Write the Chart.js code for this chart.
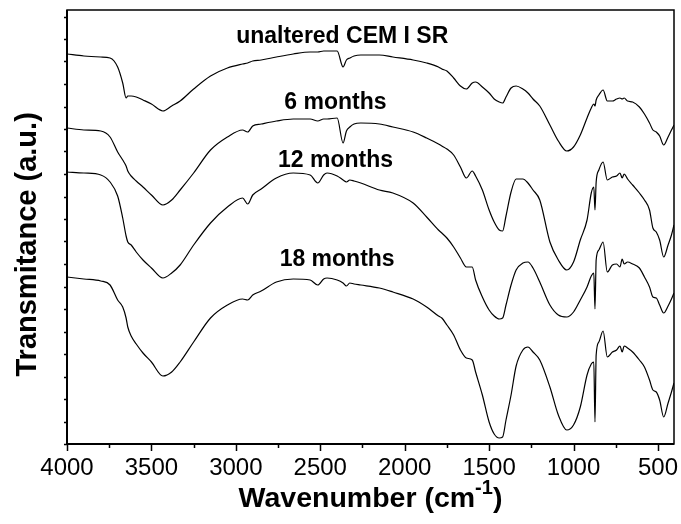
<!DOCTYPE html>
<html lang="en">
<head>
<meta charset="UTF-8">
<title>FTIR spectra - CEM I SR</title>
<script src="https://cdn.jsdelivr.net/npm/chart.js"></script>
<style>
  html, body { margin: 0; padding: 0; background: #fff; }
  #wrap { position: relative; width: 681px; height: 524px; }
</style>
</head>
<body>
<div id="wrap"><canvas id="ftir-chart"></canvas></div>
<script>
  // wavenumber grid (cm-1), shared by every spectrum
  const wavenumbers = [
    4000, 3900, 3800, 3745, 3700, 3670, 3650, 3640, 3620, 3590,
    3550, 3500, 3432, 3380, 3330, 3250, 3150, 3050, 2960, 2930,
    2900, 2850, 2760, 2660, 2560, 2515, 2480, 2460, 2400, 2365,
    2345, 2325, 2300, 2260, 2150, 2070, 1950, 1870, 1800, 1780,
    1750, 1710, 1670, 1635, 1600, 1580, 1540, 1500, 1470, 1440,
    1420, 1400, 1370, 1340, 1300, 1270, 1240, 1200, 1140, 1090,
    1040, 1000, 960, 920, 895, 880, 873, 866, 850, 825,
    800, 770, 745, 725, 712, 700, 680, 650, 610, 580,
    550, 530, 510, 490, 466, 440, 420, 405
  ];

  // transmittance, arbitrary units (curves stacked with offsets)
  const unaltered = [
    39.0, 38.8, 38.7, 38.6, 37.7, 36.1, 34.6, 34.8, 34.8, 34.7,
    34.4, 34.0, 33.3, 33.8, 34.3, 35.5, 36.8, 37.6, 38.0, 38.1,
    38.3, 38.4, 38.7, 39.0, 39.2, 39.2, 39.3, 39.3, 39.3, 37.7,
    38.4, 38.6, 38.8, 38.9, 38.9, 38.7, 38.4, 38.1, 37.7, 37.5,
    37.3, 36.6, 35.8, 35.5, 36.1, 36.2, 35.7, 35.1, 34.5, 34.2,
    34.1, 34.7, 35.6, 35.8, 35.5, 35.1, 34.5, 33.8, 31.9, 30.3,
    29.3, 29.7, 30.9, 32.6, 33.6, 34.0, 33.8, 34.4, 34.9, 35.4,
    34.3, 34.3, 34.5, 34.6, 34.5, 34.6, 34.3, 34.2, 33.7, 33.0,
    32.1, 31.4, 31.2, 30.8, 29.9, 30.7, 31.4, 31.9
  ];
  const months6 = [
    31.6, 31.4, 31.3, 30.7, 29.2, 28.4, 27.8, 27.3, 26.8, 26.3,
    25.7, 24.9, 23.9, 24.4, 25.4, 27.1, 29.4, 30.7, 31.4, 31.2,
    31.8, 32.0, 32.3, 32.5, 32.5, 32.3, 32.5, 32.5, 32.6, 30.1,
    31.3, 31.7, 32.0, 32.1, 32.0, 31.7, 31.2, 30.6, 30.0, 29.8,
    29.5, 28.9, 27.7, 26.6, 27.3, 26.8, 25.4, 23.4, 22.2, 21.4,
    21.3, 22.8, 25.2, 26.5, 26.5, 26.1, 25.4, 24.4, 20.2, 18.4,
    17.4, 18.2, 20.4, 22.4, 25.1, 25.7, 23.4, 26.2, 27.4, 28.2,
    26.4, 26.7, 26.8, 27.1, 26.6, 27.0, 26.5, 25.9, 25.1, 24.4,
    23.4, 21.6, 21.2, 20.4, 18.7, 19.9, 20.9, 21.9
  ];
  const months12 = [
    27.2, 27.1, 26.9, 26.2, 24.8, 22.6, 20.8, 20.2, 19.9, 19.2,
    18.4, 17.6, 16.6, 17.1, 17.9, 19.9, 22.1, 23.7, 24.6, 24.0,
    24.9, 25.5, 26.6, 27.1, 26.9, 26.1, 26.9, 27.1, 26.8, 26.4,
    26.2, 26.4, 26.3, 26.1, 25.4, 25.1, 24.1, 22.7, 21.4, 21.1,
    20.6, 19.7, 18.6, 17.7, 17.7, 16.4, 14.7, 13.4, 12.8, 12.5,
    12.6, 13.9, 15.9, 17.4, 18.1, 18.2, 17.6, 16.2, 13.9, 12.9,
    12.7, 13.2, 14.4, 15.7, 16.8, 17.1, 13.5, 18.4, 19.4, 20.2,
    17.2, 17.9, 18.0, 17.7, 18.5, 18.0, 18.2, 18.0, 17.6, 16.7,
    15.7, 14.7, 14.6, 13.9, 13.1, 13.8, 14.5, 15.1
  ];
  const months18 = [
    16.7, 16.5, 16.3, 15.9, 14.4, 13.7, 12.6, 11.7, 10.8, 10.0,
    9.1, 8.2, 6.8, 7.2, 8.2, 10.2, 12.6, 13.9, 14.5, 14.4,
    14.9, 15.3, 16.2, 16.5, 16.4, 15.9, 16.5, 16.6, 16.4, 16.1,
    15.8, 16.1, 16.0, 15.9, 15.6, 15.2, 14.5, 13.7, 12.8, 12.6,
    11.9, 10.9, 9.4, 8.6, 8.4, 7.2, 4.9, 2.2, 1.0, 0.6,
    0.7, 2.4, 4.9, 7.8, 9.4, 9.7, 9.2, 8.4, 5.7, 2.9,
    1.4, 1.9, 3.7, 6.9, 8.0, 8.2, 2.2, 8.9, 10.2, 11.3,
    8.7, 9.2, 9.4, 9.8, 9.2, 9.8, 9.6, 9.2, 8.4, 7.7,
    6.4, 5.4, 5.2, 4.4, 2.7, 4.1, 5.2, 6.1
  ];

  const seriesNames = ['unaltered CEM I SR', '6 months', '12 months', '18 months'];
  const xTickLabels = [4000, 3500, 3000, 2500, 2000, 1500, 1000, 500];

  const FONT = '"Liberation Sans", Arial, Helvetica, sans-serif';

  // where each curve's name sits, in data units
  const notes = [
    { text: seriesNames[0], wn: 2370, t: 40.7 },
    { text: seriesNames[1], wn: 2410, t: 34.1 },
    { text: seriesNames[2], wn: 2410, t: 28.3 },
    { text: seriesNames[3], wn: 2400, t: 18.4 }
  ];

  const toPoints = vals => wavenumbers.map((wn, i) => ({ x: wn, y: vals[i] }));

  const framePlugin = {
    id: 'frame',
    afterDraw(chart) {
      const { ctx, chartArea: a, scales: { x, y } } = chart;
      ctx.save();
      ctx.strokeStyle = '#000';
      ctx.fillStyle = '#000';

      // ticks on x: long at labelled values, short in between
      ctx.lineWidth = 1.5;
      ctx.beginPath();
      x.ticks.forEach(t => {
        if (t.value % 250 !== 0) return;
        const px = Math.round(x.getPixelForValue(t.value)) + 0.5;
        const len = xTickLabels.includes(t.value) ? 7 : 4;
        ctx.moveTo(px, a.bottom);
        ctx.lineTo(px, a.bottom + len);
      });
      // small unlabelled ticks on y
      y.ticks.forEach(t => {
        const py = Math.round(y.getPixelForValue(t.value)) + 0.5;
        ctx.moveTo(a.left, py);
        ctx.lineTo(a.left - 3, py);
      });
      ctx.stroke();

      // plot box
      ctx.lineWidth = 1.5;
      ctx.strokeRect(a.left, a.top, a.right - a.left, a.bottom - a.top);
      ctx.lineWidth = 2;
      ctx.beginPath();
      ctx.moveTo(a.left, a.top);
      ctx.lineTo(a.left, a.bottom);
      ctx.lineTo(a.right, a.bottom);
      ctx.stroke();

      // curve names
      ctx.font = 'bold 23px ' + FONT;
      ctx.textAlign = 'center';
      ctx.textBaseline = 'middle';
      notes.forEach(n => {
        ctx.fillText(n.text, x.getPixelForValue(n.wn), y.getPixelForValue(n.t));
      });

      // x title with superscript
      const cx = (a.left + a.right) / 2;
      const base = 507;
      const main = 'Wavenumber (cm';
      const big = 'bold 28.5px ' + FONT;
      const small = 'bold 20px ' + FONT;
      ctx.textBaseline = 'alphabetic';
      ctx.textAlign = 'left';
      ctx.font = big;
      const w1 = ctx.measureText(main).width;
      const w3 = ctx.measureText(')').width;
      ctx.font = small;
      const w2 = ctx.measureText('-1').width;
      const sx = cx - (w1 + w2 + w3) / 2;
      ctx.font = big;
      ctx.fillText(main, sx, base);
      ctx.font = small;
      ctx.fillText('-1', sx + w1, base - 13);
      ctx.font = big;
      ctx.fillText(')', sx + w1 + w2, base);

      // y title
      ctx.font = 'bold 29px ' + FONT;
      ctx.translate(28, a.top + (a.bottom - a.top) * 0.54);
      ctx.rotate(-Math.PI / 2);
      ctx.textAlign = 'center';
      ctx.textBaseline = 'middle';
      ctx.fillText('Transmitance (a.u.)', 0, 0);
      ctx.restore();
    }
  };

  const ctx = document.getElementById('ftir-chart').getContext('2d');
  new Chart(ctx, {
    type: 'line',
    data: {
      datasets: [unaltered, months6, months12, months18].map((vals, i) => ({
        label: seriesNames[i],
        data: toPoints(vals),
        borderColor: '#000',
        borderWidth: 1.2,
        pointRadius: 0,
        cubicInterpolationMode: 'monotone',
        fill: false
      }))
    },
    options: {
      responsive: true,
      maintainAspectRatio: false,
      animation: false,
      layout: { padding: { left: 0, right: 7, top: 10, bottom: 0 } },
      plugins: { legend: { display: false }, tooltip: { enabled: false } },
      scales: {
        x: {
          type: 'linear',
          reverse: true,
          min: 405,
          max: 4000,
          grid: { display: false, drawTicks: true, tickLength: 8 },
          border: { display: false },
          ticks: {
            stepSize: 250,
            includeBounds: false,
            autoSkip: false,
            maxRotation: 0,
            padding: 2,
            color: '#000',
            font: { family: FONT, size: 24 },
            callback: v => xTickLabels.includes(v) ? String(v) : ''
          },
          afterFit: s => { s.height = 80; s.paddingLeft = 0; s.paddingRight = 0; }
        },
        y: {
          min: 0,
          max: 43.4,
          grid: { display: false },
          border: { display: false },
          ticks: { display: false, stepSize: 2.25, includeBounds: false },
          afterFit: s => { s.width = 67; }
        }
      }
    },
    plugins: [framePlugin]
  });
</script>
</body>
</html>
